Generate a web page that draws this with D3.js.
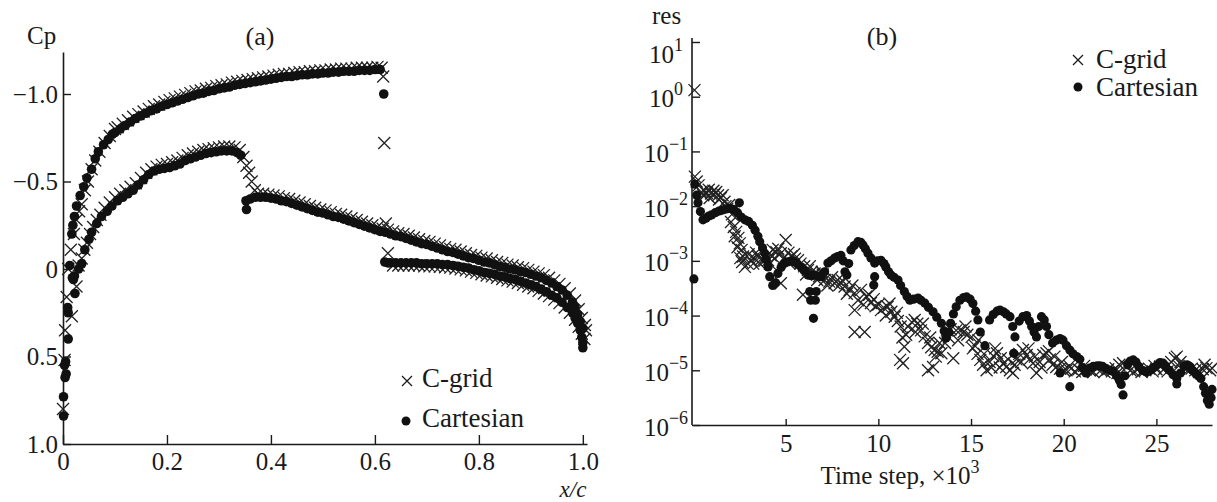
<!DOCTYPE html>
<html>
<head>
<meta charset="utf-8">
<script src="https://cdn.jsdelivr.net/npm/d3@7"></script>
<style>
  body { margin: 0; background: #fff; }
</style>
</head>
<body>
<svg id="chart" width="1217" height="502"></svg>
<script>
// ---- panel (a): pressure coefficient, [x/c, Cp] ----
const cgridUpper = [
  [0.0,0.80],[0.003,0.52],[0.004,0.35],[0.007,0.16],[0.017,0.27],[0.026,0.10],[0.010,0.0],[0.015,-0.11],
  [0.021,-0.20],[0.026,-0.28],[0.031,-0.33],[0.036,-0.37],[0.042,-0.45],[0.048,-0.50],[0.055,-0.57],
  [0.062,-0.62],[0.070,-0.67],[0.080,-0.72],[0.090,-0.76],[0.100,-0.80],
  [0.105,-0.81],[0.115,-0.83],[0.125,-0.85],[0.135,-0.87],[0.145,-0.885],[0.155,-0.90],[0.165,-0.915],
  [0.175,-0.93],[0.185,-0.94],[0.195,-0.955],[0.205,-0.965],[0.215,-0.975],[0.225,-0.985],[0.235,-0.995],
  [0.245,-1.005],[0.255,-1.015],[0.265,-1.02],[0.275,-1.03],[0.285,-1.035],[0.295,-1.045],[0.305,-1.05],
  [0.315,-1.055],[0.325,-1.065],[0.335,-1.07],[0.345,-1.075],[0.355,-1.08],[0.365,-1.085],[0.375,-1.09],
  [0.385,-1.095],[0.395,-1.10],[0.405,-1.105],[0.415,-1.11],[0.425,-1.115],[0.435,-1.115],[0.445,-1.12],
  [0.455,-1.125],[0.465,-1.125],[0.475,-1.13],[0.485,-1.13],[0.495,-1.135],[0.505,-1.135],[0.515,-1.14],
  [0.525,-1.14],[0.535,-1.145],[0.545,-1.145],[0.555,-1.145],[0.565,-1.15],[0.575,-1.15],[0.585,-1.15],
  [0.595,-1.15],[0.605,-1.155],[0.613,-1.15],[0.616,-1.10],
  [0.618,-0.72],[0.621,-0.26],[0.625,-0.09],
  [0.635,-0.02],[0.645,-0.02],[0.655,-0.02],[0.665,-0.02],[0.675,-0.02],[0.685,-0.02],[0.695,-0.015],
  [0.705,-0.015],[0.715,-0.015],[0.725,-0.012],[0.735,-0.01],[0.745,-0.008],[0.755,-0.003],[0.765,0.002],
  [0.775,0.008],[0.785,0.015],[0.795,0.022],[0.805,0.03],[0.815,0.037],[0.825,0.042],[0.835,0.05],
  [0.845,0.057],[0.855,0.065],[0.865,0.072],[0.875,0.08],[0.885,0.09],[0.895,0.10],[0.905,0.11],
  [0.915,0.125],[0.925,0.14],[0.935,0.155],[0.945,0.175],[0.955,0.195],[0.965,0.22],[0.975,0.25],
  [0.985,0.29],[0.992,0.33],[0.998,0.37],[1.003,0.40]
];

const cgridLower = [
  [0.030,-0.02],[0.036,-0.06],[0.041,-0.11],[0.046,-0.15],[0.052,-0.20],[0.058,-0.24],[0.065,-0.28],
  [0.072,-0.31],[0.080,-0.35],[0.090,-0.38],[0.100,-0.41],
  [0.11,-0.43],[0.12,-0.45],[0.13,-0.47],[0.14,-0.49],[0.15,-0.52],[0.16,-0.55],[0.17,-0.57],[0.18,-0.585],
  [0.19,-0.595],[0.20,-0.60],[0.21,-0.61],[0.22,-0.62],[0.23,-0.635],[0.24,-0.65],[0.25,-0.66],[0.26,-0.67],
  [0.27,-0.68],[0.28,-0.685],[0.29,-0.69],[0.30,-0.695],[0.31,-0.70],[0.32,-0.70],[0.33,-0.695],[0.34,-0.68],
  [0.347,-0.64],[0.353,-0.59],[0.358,-0.55],[0.363,-0.50],[0.369,-0.45],
  [0.375,-0.43],[0.385,-0.43],[0.395,-0.425],[0.405,-0.42],[0.415,-0.415],[0.425,-0.405],[0.435,-0.40],
  [0.445,-0.39],[0.455,-0.38],[0.465,-0.37],[0.475,-0.36],[0.485,-0.35],[0.495,-0.34],[0.505,-0.335],
  [0.515,-0.325],[0.525,-0.315],[0.535,-0.31],[0.545,-0.30],[0.555,-0.29],[0.565,-0.28],[0.575,-0.27],
  [0.585,-0.26],[0.595,-0.25],[0.605,-0.24],[0.615,-0.23],[0.625,-0.225],[0.635,-0.215],[0.645,-0.205],
  [0.655,-0.20],[0.665,-0.19],[0.675,-0.18],[0.685,-0.17],[0.695,-0.16],[0.705,-0.155],[0.715,-0.145],
  [0.725,-0.135],[0.735,-0.125],[0.745,-0.115],[0.755,-0.11],[0.765,-0.10],[0.775,-0.09],[0.785,-0.08],
  [0.795,-0.075],[0.805,-0.065],[0.815,-0.06],[0.825,-0.05],[0.835,-0.04],[0.845,-0.035],[0.855,-0.025],
  [0.865,-0.02],[0.875,-0.01],[0.885,-0.005],[0.895,0.005],[0.905,0.015],[0.915,0.025],[0.925,0.035],
  [0.935,0.05],[0.945,0.065],[0.955,0.085],[0.965,0.11],[0.975,0.14],[0.985,0.18],[0.992,0.23],
  [0.998,0.28],[1.004,0.32],[1.006,0.35]
];

const cartUpper = [
  [0.001,0.84],[0.001,0.73],[0.004,0.62],[0.006,0.60],[0.003,0.55],[0.005,0.53],[0.010,0.40],[0.010,0.25],
  [0.009,0.22],[0.023,0.14],[0.018,0.05],[0.022,0.04],[0.013,-0.02],[0.017,-0.20],[0.019,-0.25],[0.022,-0.30],
  [0.026,-0.36],[0.033,-0.42],[0.040,-0.47],[0.046,-0.52],[0.055,-0.57],[0.062,-0.63],[0.068,-0.67],
  [0.078,-0.71],[0.087,-0.74],[0.095,-0.77],
  [0.10,-0.78],[0.11,-0.80],[0.12,-0.82],[0.13,-0.84],[0.14,-0.86],[0.15,-0.875],[0.16,-0.89],[0.17,-0.905],
  [0.18,-0.915],[0.19,-0.93],[0.20,-0.94],[0.21,-0.95],[0.22,-0.96],[0.23,-0.97],[0.24,-0.98],[0.25,-0.99],
  [0.26,-1.0],[0.27,-1.005],[0.28,-1.015],[0.29,-1.02],[0.30,-1.03],[0.31,-1.035],[0.32,-1.04],[0.33,-1.05],
  [0.34,-1.055],[0.35,-1.06],[0.36,-1.065],[0.37,-1.07],[0.38,-1.075],[0.39,-1.08],[0.40,-1.085],[0.41,-1.09],
  [0.42,-1.095],[0.43,-1.10],[0.44,-1.10],[0.45,-1.105],[0.46,-1.11],[0.47,-1.11],[0.48,-1.115],[0.49,-1.115],
  [0.50,-1.12],[0.51,-1.12],[0.52,-1.125],[0.53,-1.125],[0.54,-1.13],[0.55,-1.13],[0.56,-1.13],[0.57,-1.135],
  [0.58,-1.135],[0.59,-1.135],[0.60,-1.14],[0.61,-1.14],
  [0.617,-1.00],
  [0.619,-0.04],[0.625,-0.035],[0.63,-0.035],[0.64,-0.035],[0.65,-0.035],[0.66,-0.035],[0.67,-0.035],
  [0.68,-0.035],[0.69,-0.03],[0.70,-0.03],[0.71,-0.03],[0.72,-0.03],[0.73,-0.025],[0.74,-0.025],[0.75,-0.02],
  [0.76,-0.015],[0.77,-0.01],[0.78,-0.005],[0.79,0.005],[0.80,0.01],[0.81,0.02],[0.82,0.025],[0.83,0.03],
  [0.84,0.04],[0.85,0.045],[0.86,0.055],[0.87,0.06],[0.88,0.07],[0.89,0.08],[0.90,0.09],[0.91,0.10],
  [0.92,0.115],[0.93,0.13],[0.94,0.15],[0.95,0.165],[0.96,0.19],[0.97,0.22],[0.98,0.25],[0.985,0.28],
  [0.99,0.31],[0.995,0.35],[0.998,0.39],[1.0,0.42],[1.0,0.45]
];

const cartLower = [
  [0.020,0.06],[0.030,0.0],[0.036,-0.03],[0.042,-0.11],[0.050,-0.17],[0.055,-0.21],[0.065,-0.26],
  [0.074,-0.30],[0.085,-0.33],[0.094,-0.36],[0.105,-0.39],[0.115,-0.41],[0.125,-0.43],[0.135,-0.45],
  [0.145,-0.48],[0.155,-0.51],[0.165,-0.54],[0.175,-0.56],[0.185,-0.57],[0.195,-0.575],[0.205,-0.58],
  [0.215,-0.59],[0.225,-0.60],[0.235,-0.62],[0.245,-0.63],[0.255,-0.64],[0.265,-0.65],[0.275,-0.66],
  [0.285,-0.665],[0.295,-0.67],[0.305,-0.675],[0.315,-0.675],[0.325,-0.675],[0.335,-0.665],[0.342,-0.65],
  [0.352,-0.39],[0.353,-0.34],[0.36,-0.40],
  [0.37,-0.41],[0.38,-0.41],[0.39,-0.41],[0.40,-0.405],[0.41,-0.40],[0.42,-0.39],[0.43,-0.385],[0.44,-0.375],
  [0.45,-0.365],[0.46,-0.355],[0.47,-0.345],[0.48,-0.335],[0.49,-0.325],[0.50,-0.32],[0.51,-0.31],[0.52,-0.30],
  [0.53,-0.295],[0.54,-0.285],[0.55,-0.275],[0.56,-0.265],[0.57,-0.255],[0.58,-0.245],[0.59,-0.235],
  [0.60,-0.225],[0.61,-0.215],[0.62,-0.21],[0.63,-0.20],[0.64,-0.19],[0.65,-0.185],[0.66,-0.175],
  [0.67,-0.165],[0.68,-0.155],[0.69,-0.145],[0.70,-0.14],[0.71,-0.13],[0.72,-0.12],[0.73,-0.11],[0.74,-0.10],
  [0.75,-0.095],[0.76,-0.085],[0.77,-0.075],[0.78,-0.065],[0.79,-0.06],[0.80,-0.05],[0.81,-0.04],
  [0.82,-0.035],[0.83,-0.025],[0.84,-0.015],[0.85,-0.01],[0.86,0.0],[0.87,0.005],[0.88,0.015],[0.89,0.02],
  [0.90,0.03],[0.91,0.04],[0.92,0.05],[0.93,0.065],[0.94,0.08],[0.95,0.10],[0.96,0.12],[0.97,0.15],
  [0.98,0.19],[0.985,0.22],[0.99,0.26],[0.995,0.30],[1.0,0.34]
];

const cpTicks = [-1.0, -0.5, 0, 0.5, 1.0];
const xcTicks = [0, 0.2, 0.4, 0.6, 0.8, 1.0];

// ---- panel (b): residual history, [time step x1e3, log10(res)] ----
const cgridRes = [
  [0.08,0.12],[0.10,-1.46],[0.20,-1.55],[0.30,-1.62],[0.45,-1.74],[0.55,-1.80],[0.60,-1.72],[0.75,-1.76],
  [0.85,-1.70],[0.90,-1.85],[0.97,-1.77],[1.10,-1.72],[1.15,-1.79],[1.25,-1.74],[1.35,-1.80],[1.40,-1.88],
  [1.50,-1.85],[1.60,-1.80],[1.70,-1.92],[1.75,-2.00],[1.85,-2.05],[1.95,-1.98],[2.05,-2.29],[2.10,-2.15],
  [2.20,-2.38],[2.25,-2.55],[2.33,-2.47],[2.40,-2.75],[2.45,-2.58],[2.52,-2.68],[2.55,-2.95],[2.62,-2.80],
  [2.65,-3.02],[2.70,-2.92],[2.80,-3.11],[2.95,-3.05],[3.00,-2.88],[3.13,-2.99],[3.25,-3.05],[3.30,-2.95],
  [3.40,-2.85],[3.50,-2.92],[3.60,-3.05],[3.70,-2.96],[3.85,-3.00],[3.95,-2.92],[4.05,-2.99],[4.15,-3.05],
  [4.20,-2.90],[4.30,-2.80],[4.40,-2.95],[4.50,-2.84],[4.60,-2.78],[4.74,-2.86],[4.74,-3.41],[4.90,-2.95],
  [5.00,-2.62],[5.15,-2.85],[5.20,-3.05],[5.30,-2.92],[5.45,-2.88],[5.50,-2.96],[5.66,-2.99],[5.80,-3.05],
  [5.93,-3.62],[6.00,-3.10],[6.10,-3.25],[6.20,-3.17],[6.30,-3.10],[6.40,-3.20],[6.56,-3.23],[6.70,-3.35],
  [6.80,-3.28],[6.95,-3.20],[7.00,-3.25],[7.10,-3.35],[7.25,-3.45],[7.35,-3.38],[7.50,-3.30],[7.64,-3.41],
  [7.80,-3.35],[7.90,-3.44],[8.05,-3.36],[8.18,-3.47],[8.30,-3.60],[8.45,-3.53],[8.60,-3.45],[8.72,-3.59],
  [8.90,-3.72],[9.06,-3.53],[9.20,-3.80],[8.72,-3.90],[8.72,-4.30],[9.26,-4.30],[9.35,-3.65],[9.50,-3.62],
  [9.60,-3.77],[9.75,-3.70],[9.85,-3.83],[10.00,-3.80],[10.14,-3.90],[10.30,-3.86],[10.40,-4.00],
  [10.50,-3.84],[10.60,-3.78],[10.70,-3.93],[10.88,-4.02],[11.00,-3.95],[11.05,-4.10],[11.20,-4.20],
  [11.30,-4.40],[11.40,-4.57],[11.50,-4.35],[11.33,-4.87],[11.17,-4.81],[11.60,-4.20],[11.80,-4.12],
  [11.96,-4.08],[12.00,-4.30],[12.10,-4.15],[12.30,-4.27],[12.40,-4.15],[12.50,-4.38],[12.68,-4.50],
  [12.68,-5.00],[12.80,-4.40],[12.85,-4.58],[13.04,-4.63],[13.10,-4.75],[13.20,-4.66],[13.30,-4.50],
  [13.40,-4.69],[12.95,-4.94],[13.60,-4.50],[13.70,-4.27],[13.80,-4.40],[13.90,-4.25],[14.04,-4.78],
  [14.20,-4.27],[14.30,-4.45],[14.40,-4.27],[14.60,-4.30],[14.70,-4.20],[14.80,-4.35],[15.03,-4.39],
  [15.10,-4.60],[15.20,-4.55],[15.35,-4.70],[15.40,-4.45],[15.50,-4.81],[15.65,-4.90],[15.70,-4.70],
  [15.84,-5.00],[16.00,-4.85],[16.10,-4.95],[16.20,-4.74],[16.30,-4.60],[16.40,-4.69],[16.55,-4.95],
  [16.60,-4.78],[16.75,-4.87],[16.90,-4.94],[17.00,-4.80],[17.10,-5.00],[17.26,-5.05],[17.35,-4.90],
  [17.45,-4.80],[17.60,-4.70],[17.70,-4.85],[17.80,-4.63],[18.00,-4.72],[18.10,-4.60],[18.15,-4.80],
  [18.34,-4.87],[18.45,-4.75],[18.53,-5.05],[18.70,-4.85],[18.80,-4.95],[18.90,-4.72],[19.07,-4.69],
  [19.20,-4.65],[19.25,-4.80],[19.40,-4.90],[19.50,-4.75],[19.60,-4.94],[19.80,-4.97],[19.90,-4.85],
  [20.00,-5.00],[20.15,-5.00],[20.30,-4.92],[20.40,-4.97],[20.60,-5.02],[20.80,-4.98],[21.00,-5.03],
  [21.10,-4.92],[21.20,-4.98],[21.40,-5.00],[21.60,-5.03],[21.80,-4.97],[22.00,-5.00],[22.20,-5.03],
  [22.40,-4.98],[22.60,-5.02],[22.80,-4.96],[22.90,-5.05],[23.00,-4.90],[23.20,-4.87],[23.40,-4.94],
  [23.60,-5.00],[23.80,-5.02],[24.00,-4.98],[24.20,-5.03],[24.40,-5.00],[24.60,-4.97],[24.80,-5.02],
  [24.90,-4.92],[25.00,-4.98],[25.20,-4.93],[25.40,-4.98],[25.60,-5.02],[25.80,-4.85],[26.00,-4.78],
  [26.10,-4.75],[26.20,-4.92],[26.30,-4.85],[26.50,-4.95],[26.70,-5.00],[26.90,-4.97],[27.10,-5.00],
  [27.30,-5.03],[27.50,-4.98],[27.60,-4.90],[27.70,-4.96],[27.90,-5.00],[28.00,-4.96]
];

const cartRes = [
  [0.05,-3.33],[0.10,-1.60],[0.20,-1.80],[0.27,-1.94],[0.40,-2.10],[0.54,-2.25],[0.70,-2.22],[0.85,-2.18],
  [1.00,-2.16],[1.20,-2.12],[1.40,-2.09],[1.60,-2.07],[1.80,-2.05],[2.00,-2.04],[2.20,-2.06],[2.40,-2.12],
  [2.50,-1.94],[2.60,-2.20],[2.80,-2.25],[3.00,-2.28],[3.20,-2.35],[3.35,-2.44],[3.50,-2.55],[3.60,-2.65],
  [3.75,-2.76],[3.87,-2.86],[3.95,-2.98],[4.05,-3.11],[4.14,-3.29],[4.30,-3.45],[4.45,-3.40],[4.58,-3.23],
  [4.75,-3.12],[4.94,-3.04],[5.10,-3.02],[5.30,-3.00],[5.48,-3.02],[5.65,-3.06],[5.83,-3.11],[6.00,-3.18],
  [6.20,-3.26],[6.40,-3.27],[6.56,-3.26],[6.75,-3.28],[6.90,-3.29],[6.30,-3.56],[6.65,-3.56],[6.35,-3.72],
  [6.60,-3.72],[6.50,-4.05],[7.10,-3.20],[7.28,-3.04],[7.45,-3.00],[7.64,-2.95],[7.80,-2.92],[7.98,-2.90],
  [8.10,-3.00],[8.20,-3.20],[8.30,-3.26],[8.40,-3.05],[8.52,-2.80],[8.70,-2.72],[8.90,-2.65],[9.05,-2.66],
  [9.17,-2.71],[9.30,-2.78],[9.44,-2.86],[9.60,-2.95],[9.80,-3.04],[9.80,-3.29],[9.75,-3.44],[9.95,-3.00],
  [10.14,-2.99],[10.30,-3.05],[10.40,-3.11],[10.55,-3.20],[10.68,-3.26],[10.85,-3.30],[11.06,-3.35],
  [11.20,-3.45],[11.40,-3.56],[11.55,-3.65],[11.70,-3.72],[11.90,-3.70],[12.14,-3.68],[12.30,-3.72],
  [12.50,-3.77],[12.70,-3.85],[12.95,-3.93],[13.15,-4.03],[13.40,-4.14],[13.55,-4.28],[13.65,-4.41],
  [13.80,-4.30],[13.90,-4.14],[14.05,-3.97],[14.20,-3.84],[14.40,-3.72],[14.60,-3.67],[14.76,-3.66],
  [14.95,-3.70],[15.10,-3.78],[15.25,-3.92],[15.37,-4.08],[15.50,-4.30],[15.75,-4.55],[16.00,-4.08],
  [16.20,-3.98],[16.40,-3.92],[16.56,-3.90],[16.75,-3.93],[16.90,-3.97],[17.10,-4.02],[17.25,-4.20],
  [17.37,-4.39],[17.30,-4.69],[17.60,-4.10],[17.80,-4.02],[18.00,-4.00],[18.15,-4.10],[18.27,-4.20],
  [18.40,-4.30],[18.53,-4.39],[18.65,-4.20],[18.80,-4.02],[18.95,-4.08],[19.07,-4.20],[19.20,-4.35],
  [19.40,-4.50],[19.60,-4.45],[19.80,-4.42],[19.96,-4.45],[20.15,-4.55],[20.33,-4.63],[20.50,-4.70],
  [20.70,-4.75],[20.87,-4.80],[21.00,-4.95],[21.20,-5.05],[19.80,-5.05],[20.33,-5.30],[21.40,-4.96],
  [21.60,-4.93],[21.80,-4.92],[21.95,-4.92],[22.10,-4.93],[22.30,-4.97],[22.50,-5.00],[22.66,-5.02],
  [22.85,-5.10],[23.00,-5.18],[23.10,-5.26],[23.20,-5.45],[23.30,-5.10],[23.45,-4.90],[23.60,-4.83],
  [23.75,-4.81],[23.90,-4.85],[24.05,-4.93],[24.25,-5.00],[24.47,-5.03],[24.65,-5.00],[24.85,-4.95],
  [25.05,-4.90],[25.20,-4.86],[25.36,-4.87],[25.50,-4.92],[25.70,-5.00],[25.90,-5.08],[26.10,-5.15],
  [26.10,-5.25],[26.30,-5.05],[26.50,-4.93],[26.65,-4.90],[26.80,-4.93],[26.95,-5.00],[27.10,-5.05],
  [27.25,-5.10],[27.40,-5.15],[27.55,-5.30],[27.65,-5.42],[27.75,-5.55],[27.85,-5.62],[27.95,-5.50],
  [28.00,-5.35]
];

const resTicks = [1e-6, 1e-5, 1e-4, 1e-3, 1e-2, 1e-1, 1e0, 1e1];
const stepTicks = [5, 10, 15, 20, 25];

const serif = "'Liberation Serif', 'Times New Roman', Times, 'Nimbus Roman', 'DejaVu Serif', serif";
const ink = "#1a1a1a";
const svg = d3.select("#chart").attr("font-family", serif);
svg.append("rect").attr("width", 1217).attr("height", 502).attr("fill", "#fff");

const cross = s => `M${-s},${-s}L${s},${s}M${-s},${s}L${s},${-s}`;

function styleAxis(g) {
  g.attr("font-family", serif);
  g.select(".domain").attr("stroke", ink).attr("stroke-width", 1.6);
  g.selectAll(".tick line").attr("stroke", ink).attr("stroke-width", 1.4);
  g.selectAll(".tick text").attr("fill", ink);
}

// ================= panel (a) =================
const xA = d3.scaleLinear().domain([0, 1.008]).range([63, 587]);
const yA = d3.scaleLinear().domain([1.0, -1.24]).range([444, 52]);
const fmtA = d => d === 0 ? "0" : d3.format(".1f")(d);

const gA = svg.append("g");
gA.append("g")
  .attr("transform", "translate(63,0)")
  .call(d3.axisLeft(yA).tickValues(cpTicks).tickFormat(fmtA).tickSizeInner(-8).tickSizeOuter(0).tickPadding(5))
  .attr("font-size", 25)
  .call(styleAxis);
gA.append("g")
  .attr("transform", "translate(0,444)")
  .call(d3.axisBottom(xA).tickValues(xcTicks).tickFormat(fmtA).tickSizeInner(-9).tickSizeOuter(0).tickPadding(8.5))
  .attr("font-size", 25)
  .call(styleAxis);

const plotCross = (g, data, sx, sy, s) => g.append("g").selectAll("path").data(data).join("path")
  .attr("d", cross(s))
  .attr("transform", d => `translate(${sx(d[0])},${sy(d[1])})`)
  .attr("fill", "none").attr("stroke", "#222").attr("stroke-width", 1.3);
const plotDots = (g, data, sx, sy, r) => g.append("g").selectAll("circle").data(data).join("circle")
  .attr("cx", d => sx(d[0])).attr("cy", d => sy(d[1])).attr("r", r)
  .attr("fill", "#111");

plotCross(gA, cgridUpper, xA, yA, 6);
plotCross(gA, cgridLower, xA, yA, 6);
plotDots(gA, cartUpper, xA, yA, 4.8);
plotDots(gA, cartLower, xA, yA, 4.8);

gA.append("text").attr("x", 27).attr("y", 44).attr("font-size", 25).attr("fill", ink).text("Cp");
gA.append("text").attr("x", 260).attr("y", 45).attr("text-anchor", "middle").attr("font-size", 26).attr("fill", ink).text("(a)");
gA.append("text").attr("x", 573).attr("y", 496.5).attr("text-anchor", "middle").attr("font-size", 23)
  .attr("font-style", "italic").attr("fill", ink).text("x/c");

// legend (a)
gA.append("path").attr("d", cross(5)).attr("transform", "translate(407,381)")
  .attr("fill", "none").attr("stroke", ink).attr("stroke-width", 1.3);
gA.append("text").attr("x", 422).attr("y", 387).attr("font-size", 27).attr("fill", ink).text("C-grid");
gA.append("circle").attr("cx", 406).attr("cy", 421).attr("r", 4.5).attr("fill", "#111");
gA.append("text").attr("x", 422).attr("y", 427).attr("font-size", 27).attr("fill", ink).text("Cartesian");

// ================= panel (b) =================
const xB = d3.scaleLinear().domain([0, 28]).range([693, 1212]);
const yB = d3.scaleLog().domain([1e-6, 1e1]).range([425, 42]);

const gB = svg.append("g");
const yAxisB = gB.append("g")
  .attr("transform", "translate(692,0)")
  .call(d3.axisLeft(yB).tickValues(resTicks).tickSizeInner(-8).tickSizeOuter(0))
  .attr("font-size", 25)
  .call(styleAxis);
yAxisB.select(".domain").attr("d", "M0,425V38");
yAxisB.selectAll(".tick text").each(function(d) {
  const e = Math.round(Math.log10(d));
  const t = d3.select(this).text(null)
    .attr("x", -26).attr("dy", null).attr("y", d === 10 ? 20 : 10)
    .attr("text-anchor", "middle");
  t.append("tspan").text("10");
  t.append("tspan").attr("dy", -12).attr("font-size", 18).text(e < 0 ? "\u2212" + (-e) : String(e));
});

gB.append("g")
  .attr("transform", "translate(0,425)")
  .call(d3.axisBottom(xB).tickValues(stepTicks).tickFormat(d3.format("d")).tickSizeInner(-6).tickSizeOuter(0).tickPadding(9))
  .attr("font-size", 25)
  .call(styleAxis);

const cgridPts = cgridRes.map(d => [d[0], Math.pow(10, d[1])]);
const cartPts = cartRes.map(d => [d[0], Math.pow(10, d[1])]);
plotCross(gB, cgridPts, xB, yB, 6);
plotDots(gB, cartPts, xB, yB, 4.6);

gB.append("text").attr("x", 652).attr("y", 24).attr("font-size", 25).attr("fill", ink).text("res");
gB.append("text").attr("x", 882).attr("y", 45).attr("text-anchor", "middle").attr("font-size", 26).attr("fill", ink).text("(b)");
const xl = gB.append("text").attr("x", 900).attr("y", 484).attr("text-anchor", "middle").attr("font-size", 25).attr("fill", ink);
xl.append("tspan").text("Time step, \u00d710");
xl.append("tspan").attr("dy", -11).attr("font-size", 18).text("3");

// legend (b)
gB.append("path").attr("d", cross(5)).attr("transform", "translate(1078,60)")
  .attr("fill", "none").attr("stroke", ink).attr("stroke-width", 1.3);
gB.append("text").attr("x", 1096).attr("y", 68).attr("font-size", 27).attr("fill", ink).text("C-grid");
gB.append("circle").attr("cx", 1078).attr("cy", 87).attr("r", 4.5).attr("fill", "#111");
gB.append("text").attr("x", 1096).attr("y", 96).attr("font-size", 27).attr("fill", ink).text("Cartesian");
</script>
</body>
</html>
